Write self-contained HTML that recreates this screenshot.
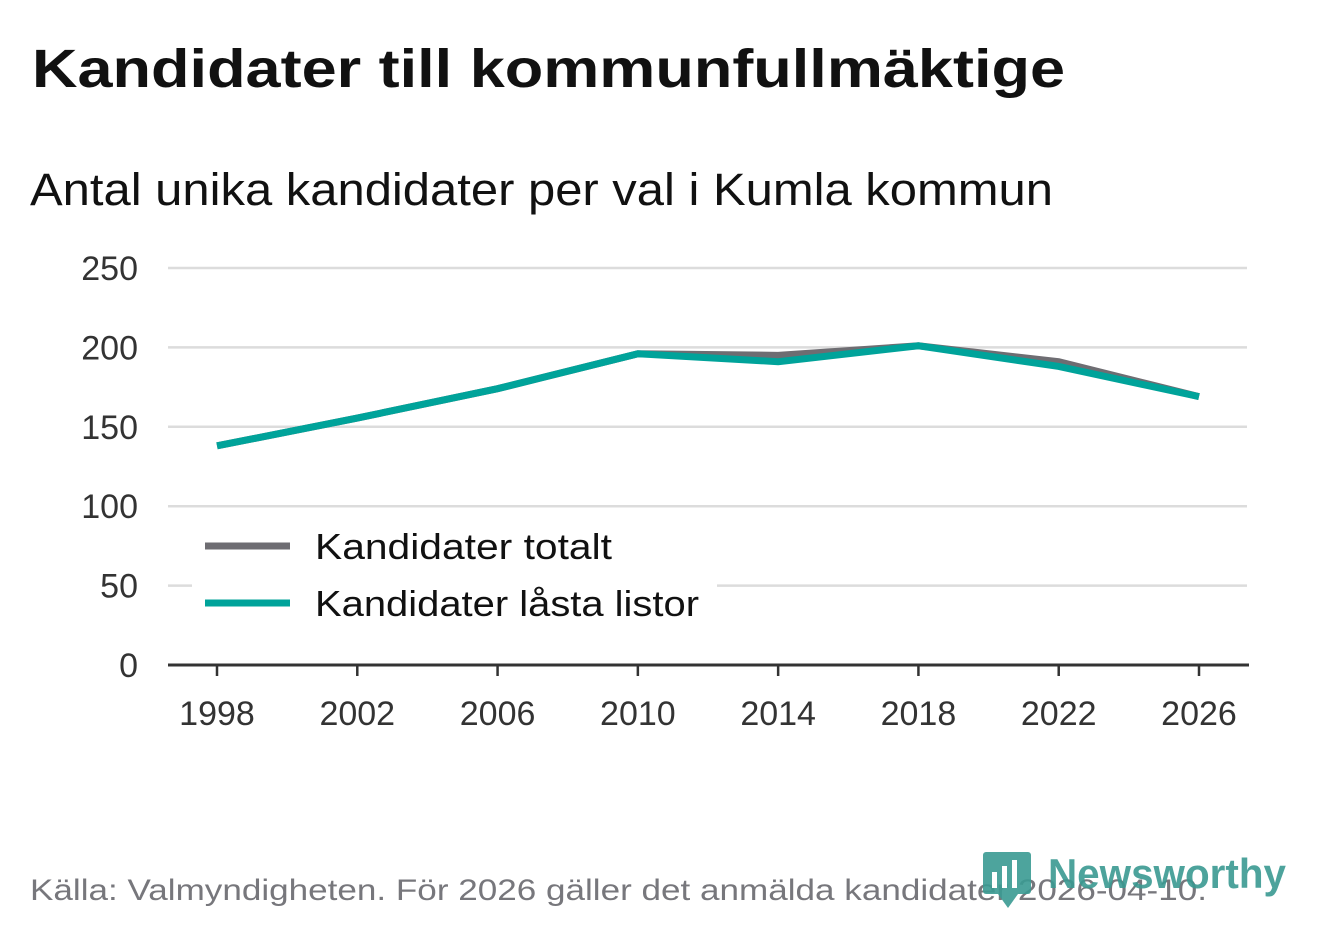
<!DOCTYPE html>
<html><head><meta charset="utf-8"><style>
body{margin:0;background:#fff;width:1322px;height:939px;overflow:hidden;font-family:"Liberation Sans","DejaVu Sans",sans-serif}
</style></head><body>
<svg width="1322" height="939" xmlns="http://www.w3.org/2000/svg" font-family="Liberation Sans, DejaVu Sans, sans-serif">
<text x="32" y="87" font-size="54" font-weight="bold" fill="#111" textLength="1033" lengthAdjust="spacingAndGlyphs">Kandidater till kommunfullmäktige</text>
<text x="30" y="205" font-size="45" fill="#111" textLength="1023" lengthAdjust="spacingAndGlyphs">Antal unika kandidater per val i Kumla kommun</text>
<g id="grid"></g><g id="xaxis"></g><g id="lines"></g>
<g>
<rect x="192" y="520" width="525" height="112" fill="#fff"/>
<line x1="205" y1="546" x2="290" y2="546" stroke="#6e6d72" stroke-width="7"/>
<text x="315" y="559" font-size="36" fill="#111" textLength="297" lengthAdjust="spacingAndGlyphs">Kandidater totalt</text>
<line x1="205" y1="603" x2="290" y2="603" stroke="#00a39a" stroke-width="7"/>
<text x="315" y="616" font-size="36" fill="#111" textLength="384" lengthAdjust="spacingAndGlyphs">Kandidater låsta listor</text>
</g>
<text x="30" y="900" font-size="30" fill="#77777c" textLength="1177" lengthAdjust="spacingAndGlyphs">Källa: Valmyndigheten. För 2026 gäller det anmälda kandidater 2026-04-10.</text>
<g>
<rect x="983" y="852" width="48" height="42" rx="3" fill="#3a9a92" opacity="0.9"/>
<polygon points="998,894 1018,894 1008,908" fill="#3a9a92" opacity="0.9"/>
<rect x="992" y="872" width="5" height="16" fill="#fff"/><rect x="1002" y="866" width="5" height="22" fill="#fff"/><rect x="1012" y="860" width="5" height="28" fill="#fff"/>
<text x="1048" y="888" font-size="42" font-weight="bold" fill="#3a9a92" opacity="0.9" textLength="238" lengthAdjust="spacingAndGlyphs">Newsworthy</text>
</g>
</svg>
<script>
const years=[1998,2002,2006,2010,2014,2018,2022,2026];
const totalt=[138,155.5,174,196,195,201,191,169];
const lasta=[138,155.5,174,196,191,201,188,169];
const yTicks=[0,50,100,150,200,250];
const NS="http://www.w3.org/2000/svg";
const x=v=>217+(v-1998)*(1199-217)/28;
const y=v=>665-v*397/250;
const grid=document.getElementById('grid');
yTicks.forEach(t=>{
 if(t>0){const l=document.createElementNS(NS,'line');
 l.setAttribute('x1',168);l.setAttribute('x2',1247);l.setAttribute('y1',y(t));l.setAttribute('y2',y(t));
 l.setAttribute('stroke','#dcdcdc');l.setAttribute('stroke-width',2.5);
 
 
 grid.appendChild(l);}
 const tx=document.createElementNS(NS,'text');
 tx.setAttribute('x',138);tx.setAttribute('y',y(t)+12);tx.setAttribute('text-anchor','end');
 tx.setAttribute('font-size',34);tx.setAttribute('fill','#333');tx.textContent=t;
 
 
 grid.appendChild(tx);
});
const xa=document.getElementById('xaxis');
const ax=document.createElementNS(NS,'line');
ax.setAttribute('x1',168);ax.setAttribute('x2',1249);ax.setAttribute('y1',665);ax.setAttribute('y2',665);
ax.setAttribute('stroke','#333');ax.setAttribute('stroke-width',3);


xa.appendChild(ax);
years.forEach(yr=>{
 const t=document.createElementNS(NS,'line');
 t.setAttribute('x1',x(yr));t.setAttribute('x2',x(yr));t.setAttribute('y1',665);t.setAttribute('y2',676);
 t.setAttribute('stroke','#333');t.setAttribute('stroke-width',2.5);
 
 
 xa.appendChild(t);
 const tx=document.createElementNS(NS,'text');
 tx.setAttribute('x',x(yr));tx.setAttribute('y',725);tx.setAttribute('text-anchor','middle');
 tx.setAttribute('font-size',34);tx.setAttribute('fill','#333');tx.textContent=yr;
 
 
 xa.appendChild(tx);
});
const lines=document.getElementById('lines');
[[totalt,'#6e6d72','line-totalt'],[lasta,'#00a39a','line-lasta']].forEach(([d,c,n])=>{
 const p=document.createElementNS(NS,'polyline');
 p.setAttribute('points',d.map((v,i)=>x(years[i])+','+y(v)).join(' '));
 p.setAttribute('fill','none');p.setAttribute('stroke',c);p.setAttribute('stroke-width',7);
 
 
 lines.appendChild(p);
});
</script>
</body></html>
